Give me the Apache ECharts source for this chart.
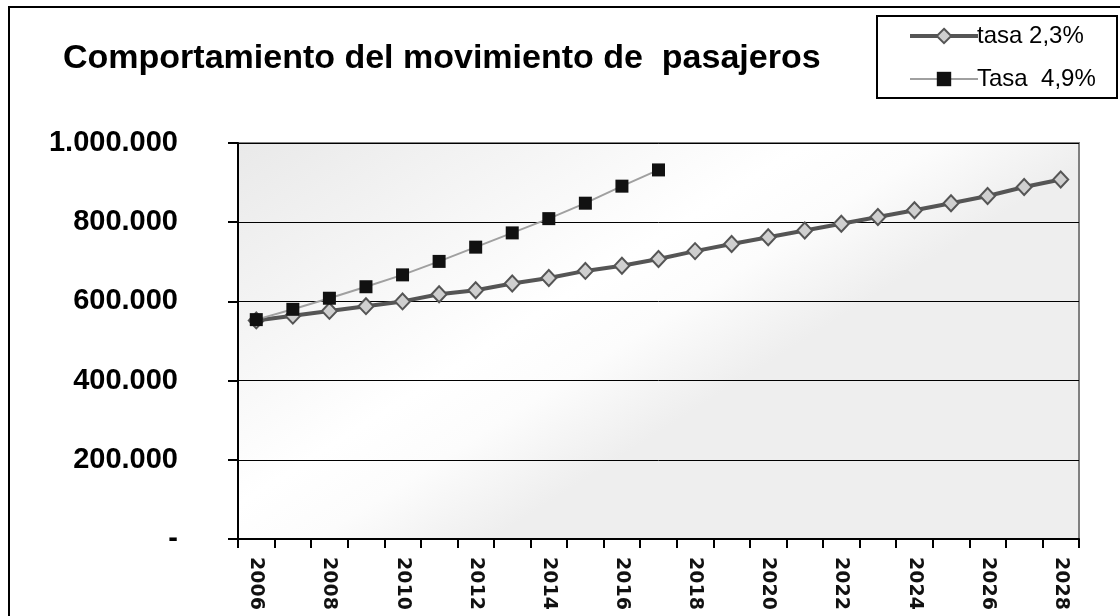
<!DOCTYPE html>
<html>
<head>
<meta charset="utf-8">
<script src="https://cdn.jsdelivr.net/npm/echarts@6/dist/echarts.min.js"></script>
<style>
  html, body { margin: 0; padding: 0; background: #fff; }
  #chart { width: 1120px; height: 616px; }
</style>
</head>
<body>
<div id="chart"></div>
<script>
// años del eje x
var years = ["2006", "2007", "2008", "2009", "2010", "2011", "2012", "2013", "2014", "2015", "2016", "2017",
  "2018", "2019", "2020", "2021", "2022", "2023", "2024", "2025", "2026", "2027", "2028"];
// pasajeros, tasa 2,3%
var tasaBaja = [552000, 564000, 576000, 588000, 600000, 618000, 628000, 645000, 659000, 677000, 690000, 707000,
  727000, 745000, 762000, 779000, 796000, 813000, 830000, 848000, 866000, 889000, 908000];
// pasajeros, tasa 4,9% (solo hasta 2017)
var tasaAlta = [554000, 580000, 608000, 637000, 667000, 701000, 737000, 773000, 809000, 848000, 891000, 932000];
var yTicks = [0, 200000, 400000, 600000, 800000, 1000000];

var chart = echarts.init(document.getElementById("chart"));

function fmtMiles(v) {
  if (v === 0) return "-";
  return String(v).replace(/\B(?=(\d{3})+(?!\d))/g, ".");
}

var option = {
  backgroundColor: "#fff",
  animation: false,
  title: {
    text: "Comportamiento del movimiento de  pasajeros",
    left: 58,
    top: 37,
    textStyle: {
      fontFamily: "Liberation Sans, Arial",
      fontWeight: "bold",
      fontSize: 34,
      color: "#000"
    }
  },
  graphic: [
    {
      // borde exterior del gráfico
      type: "rect",
      z: -10,
      shape: { x: 9, y: 7, width: 1200, height: 700 },
      style: { fill: null, stroke: "#000", lineWidth: 2 }
    },
    {
      // caja de la leyenda
      type: "rect",
      z: 5,
      shape: { x: 877, y: 16, width: 240, height: 82 },
      style: { fill: "#fff", stroke: "#000", lineWidth: 2 }
    }
  ],
  legend: {
    z: 10,
    left: 903,
    top: 19,
    orient: "vertical",
    itemWidth: 68,
    itemHeight: 18,
    itemGap: 19,
    textStyle: {
      fontFamily: "Liberation Sans, Arial",
      fontSize: 24,
      color: "#000",
      padding: [0, 0, 0, -6]
    },
    data: [
      { name: "tasa 2,3%", lineStyle: { width: 4, color: "#555" } },
      { name: "Tasa  4,9%", lineStyle: { width: 2, color: "#a0a0a0" } }
    ]
  },
  grid: {
    left: 238,
    right: 41,
    top: 143,
    bottom: 77,
    show: true,
    borderColor: "#808080",
    borderWidth: 2,
    backgroundColor: new echarts.graphic.LinearGradient(0, 0, 0.3, 1, [
      { offset: 0, color: "#e9e9e9" },
      { offset: 0.65, color: "#ffffff" },
      { offset: 0.8, color: "#fcfcfc" },
      { offset: 1, color: "#eeeeee" }
    ])
  },
  xAxis: {
    type: "category",
    data: years,
    boundaryGap: true,
    axisLine: { lineStyle: { color: "#000", width: 2 } },
    axisTick: { show: true, interval: 0, length: 9, lineStyle: { color: "#000", width: 2 } },
    axisLabel: {
      interval: 1,
      rotate: -90,
      margin: 18,
      fontFamily: "DejaVu Sans",
      fontWeight: "bold",
      fontSize: 19,
      color: "#111"
    },
    splitLine: { show: false }
  },
  yAxis: {
    type: "value",
    min: yTicks[0],
    max: yTicks[yTicks.length - 1],
    interval: yTicks[1] - yTicks[0],
    axisLine: { show: true, lineStyle: { color: "#000", width: 2 } },
    axisTick: { show: true, inside: false, length: 10, lineStyle: { color: "#000", width: 2 } },
    axisLabel: {
      margin: 60,
      fontFamily: "Liberation Sans, Arial",
      fontWeight: "bold",
      fontSize: 29,
      color: "#000",
      formatter: fmtMiles
    },
    splitLine: { show: true, lineStyle: { color: "#000", width: 1 } }
  },
  series: [
    {
      name: "tasa 2,3%",
      type: "line",
      data: tasaBaja,
      symbol: "diamond",
      symbolSize: [15, 16],
      lineStyle: { color: "#555", width: 4 },
      itemStyle: { color: "#cfcfcf", borderColor: "#555", borderWidth: 2 }
    },
    {
      name: "Tasa  4,9%",
      type: "line",
      data: tasaAlta,
      symbol: "rect",
      symbolSize: 13,
      lineStyle: { color: "#a0a0a0", width: 2 },
      itemStyle: { color: "#111", borderWidth: 0 }
    }
  ]
};

chart.setOption(option);
</script>
</body>
</html>
